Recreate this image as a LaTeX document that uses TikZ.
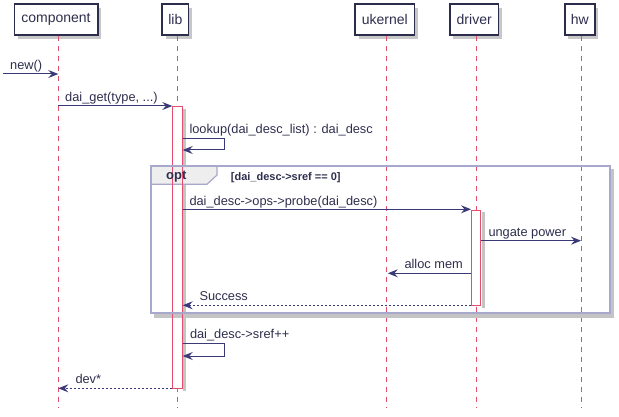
\documentclass[tikz,border=0pt]{standalone}
\usepackage{fontspec}
\setmainfont{Liberation Sans}
\usetikzlibrary{arrows.meta,calc,shadows}
\definecolor{boxborder}{HTML}{2C2C4C}
\definecolor{arrowc}{HTML}{3A3A78}
\definecolor{lifec}{HTML}{E64C6C}
\definecolor{framec}{HTML}{A8A8CC}
\definecolor{tabfill}{HTML}{EEEEEE}
\definecolor{txt}{HTML}{2E2E4E}
\definecolor{shadowc}{HTML}{C4C4C4}
\begin{document}
\begin{tikzpicture}[x=1pt,y=-1pt,
  part/.style={draw=boxborder, line width=1.5pt, fill=white, inner sep=0pt,
    minimum height=31pt, font=\fontsize{14}{16}\selectfont, text=txt,
    drop shadow={shadow xshift=3.5pt, shadow yshift=-3.5pt, fill=black, opacity=0.22}},
  life/.style={draw=lifec, line width=1pt, dash pattern=on 5pt off 5pt},
  act/.style={draw=lifec, line width=1pt, fill=white, inner sep=0pt},
  msg/.style={draw=arrowc, line width=1pt, -{Stealth[length=10pt,width=8pt,inset=3.5pt]}},
  ret/.style={msg, dash pattern=on 2pt off 2pt},
  lbl/.style={font=\fontsize{12.8}{15}\selectfont, text=txt, inner sep=0pt, anchor=base west},
  condlbl/.style={font=\bfseries\fontsize{11}{13}\selectfont, text=txt, inner sep=0pt, anchor=base west},
]
\useasboundingbox (0,0) rectangle (619,417);

% participants
\node[part, minimum width=83.5pt] (component) at (56,19.75) {component};
\node[part, minimum width=26.5pt] (lib) at (175.3,19.75) {lib};
\node[part, minimum width=59.5pt] (ukernel) at (384.8,19.75) {ukernel};
\node[part, minimum width=48.8pt] (driver) at (474.2,19.75) {driver};
\node[part, minimum width=30.1pt] (hw) at (579.8,19.75) {hw};

% lifelines
\coordinate (cT) at (58.3,36.5);  \coordinate (cB) at (58.3,407);
\coordinate (lT) at (177,36.5);   \coordinate (lB) at (177,407);
\coordinate (uT) at (386.3,36.5); \coordinate (uB) at (386.3,407);
\coordinate (dT) at (476,36.5);   \coordinate (dB) at (476,407);
\coordinate (hT) at (581,36.5);   \coordinate (hB) at (581,407);
\foreach \a/\b in {cT/cB,lT/lB,uT/uB,dT/dB,hT/hB} \draw[life] (\a) -- (\b);

% activations
\fill[shadowc] (183.2,109) rectangle (186,391);
\node[act, minimum width=9.4pt, minimum height=281pt, anchor=north] (libact) at (177.5,106.5) {};
\fill[shadowc] (481.8,212) rectangle (484.6,308);
\node[act, minimum width=9.3pt, minimum height=95pt, anchor=north] (drvact) at (476.2,209.8) {};

% opt frame
\coordinate (fTL) at (150.7,165.7);
\coordinate (fBR) at (610,313.3);
\fill[shadowc] (154,314.3) rectangle (614,317.5);
\fill[shadowc] (611,169) rectangle (614,317.5);
\draw[framec, line width=1.2pt, fill=tabfill] (fTL) -- (217,165.7) -- (217,175) -- (207,184.3) -- (150.7,184.3) -- cycle;
\draw[lifec, line width=1pt] (libact.north west) -- (libact.south west) (libact.north east) -- (libact.south east);
\draw[framec, line width=2pt] (fTL) rectangle (fBR);
\node[font=\bfseries\fontsize{13}{15}\selectfont, text=txt, inner sep=0pt, anchor=base] (optlbl) at (176.3,180) {opt};
\node[condlbl] (cond) at (230.7,180.5) {[dai\_desc->sref == 0]};

% messages
\coordinate (start) at (3,74);
\draw[msg] (start) -- (cT |- start);
\node[lbl] (l1) at (10,69.5) {new()};

\draw[msg] (cT |- 0,106) -- (libact.west |- 0,106);
\node[lbl] (l2) at (65,101.5) {dai\_get(type, ...)};

\draw[msg] (libact.east |- 0,138.3) -- ++(41.5,0) -- ++(0,11.7) -- (libact.east |- 0,150);
\node[lbl] (l3) at (189.3,133.5) {lookup(dai\_desc\_list) : dai\_desc};

\draw[msg] (libact.east |- 0,209.3) -- (drvact.west |- 0,209.3);
\node[lbl] (l4) at (189.3,205) {dai\_desc->ops->probe(dai\_desc)};

\draw[msg] (drvact.east |- 0,240.7) -- (hT |- 0,240.7);
\node[lbl] (l5) at (488.3,236.5) {ungate power};

\draw[msg] (drvact.west |- 0,273.3) -- ($(uT |- 0,273.3)+(1.5,0)$);
\node[lbl] (l6) at (404.3,269) {alloc mem};

\draw[ret] (drvact.west |- 0,305.3) -- (libact.east |- 0,305.3);
\node[lbl] (l7) at (199.3,300.5) {Success};

\draw[msg] (libact.east |- 0,343.3) -- ++(41.6,0) -- ++(0,12.7) -- (libact.east |- 0,356);
\node[lbl] (l8) at (189.8,338.5) {dai\_desc->sref++};

\draw[ret] (libact.west |- 0,388.3) -- (cT |- 0,388.3);
\node[lbl] (l9) at (75.3,383.5) {dev*};
\end{tikzpicture}
\end{document}
